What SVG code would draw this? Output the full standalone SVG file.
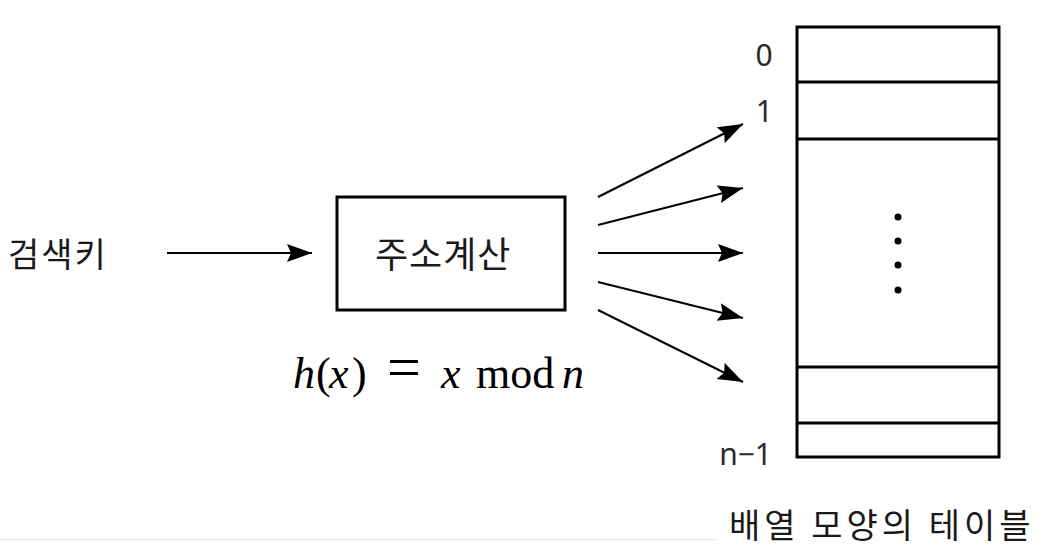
<svg xmlns="http://www.w3.org/2000/svg" width="1050" height="550" viewBox="0 0 1050 550">
<style>
.kr{font-family:"Noto Sans CJK KR","Noto Sans",sans-serif;fill:#1a1a1a}
.num{font-family:"Noto Sans","Liberation Sans",sans-serif;fill:#2a2a2a;font-size:30px}
.math{font-family:"Liberation Serif","DejaVu Serif",serif;fill:#000;font-size:44px}
.it{font-style:italic}
.eq{font-size:60px}
.box{fill:#fff;stroke:#000;stroke-width:3}
.cell{fill:none;stroke:#000;stroke-width:3}
.conn{stroke:#000;stroke-width:2;fill:none;marker-end:url(#ah)}
</style>
<defs>
<marker id="ah" markerUnits="userSpaceOnUse" markerWidth="26" markerHeight="20" refX="25" refY="9" orient="auto">
<path d="M0,0 L25,9 L0,18 L4,9 Z" fill="#000"/>
</marker>
</defs>
<rect width="1050" height="550" fill="#fff"/>
<line x1="0" y1="539.5" x2="715" y2="539.5" stroke="#e0e0e0" stroke-width="1"/>
<g id="search-key">
<text class="kr" x="8" y="267" font-size="34" letter-spacing="2">검색키</text>
</g>
<g id="address-calc">
<rect class="box" x="337" y="197" width="228" height="113"/>
<text class="kr" x="375" y="268" font-size="36" letter-spacing="1">주소계산</text>
</g>
<g id="formula">
<text class="math it" x="293" y="388">h</text>
<text class="math" x="316" y="388">(</text>
<text class="math it" x="329" y="388">x</text>
<text class="math" x="352" y="388">)</text>
<text class="math eq" x="387" y="387">=</text>
<text class="math it" x="441" y="388">x</text>
<text class="math" x="476" y="388">mod</text>
<text class="math it" x="562" y="388">n</text>
</g>
<g id="table">
<rect class="cell" x="797" y="27" width="202" height="430"/>
<line class="cell" x1="797" y1="82" x2="999" y2="82"/>
<line class="cell" x1="797" y1="139" x2="999" y2="139"/>
<line class="cell" x1="797" y1="367" x2="999" y2="367"/>
<line class="cell" x1="797" y1="423" x2="999" y2="423"/>
<circle cx="898" cy="217" r="3.5" fill="#000"/>
<circle cx="898" cy="241" r="3.5" fill="#000"/>
<circle cx="898" cy="265" r="3.5" fill="#000"/>
<circle cx="898" cy="290" r="3.5" fill="#000"/>
<text class="num" x="764" y="66" text-anchor="middle">0</text>
<text class="num" x="773" y="122" text-anchor="end">1</text>
<text class="num" x="772" y="465" text-anchor="end">n−1</text>
<text class="kr" x="729" y="538" font-size="34" letter-spacing="4">배열 모양의 테이블</text>
</g>
<g id="connectors">
<line class="conn" x1="167" y1="253" x2="312" y2="253"/>
<line class="conn" x1="598" y1="197" x2="743" y2="124"/>
<line class="conn" x1="598" y1="225" x2="743" y2="188"/>
<line class="conn" x1="598" y1="253" x2="743" y2="253"/>
<line class="conn" x1="598" y1="282" x2="743" y2="318"/>
<line class="conn" x1="598" y1="310" x2="743" y2="382"/>
</g>
</svg>
